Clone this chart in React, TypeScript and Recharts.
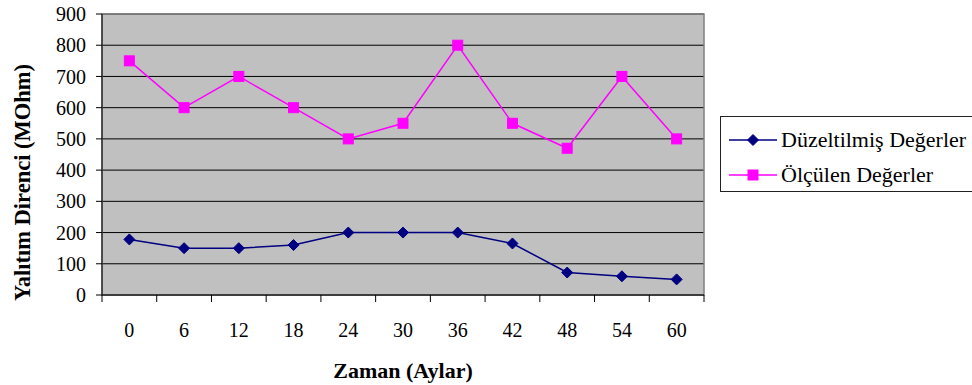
import React from 'react';
import { LineChart, Line, XAxis, YAxis, CartesianGrid, ReferenceArea, Legend } from 'recharts';

const months = [0, 6, 12, 18, 24, 30, 36, 42, 48, 54, 60];
const corrected = [178, 150, 150, 160, 200, 200, 200, 165, 72, 60, 50];
const measured = [750, 600, 700, 600, 500, 550, 800, 550, 470, 700, 500];
const yTicks = [0, 100, 200, 300, 400, 500, 600, 700, 800, 900];
// category edges, where Excel puts its tick marks
const xTickMarks = [-3, 3, 9, 15, 21, 27, 33, 39, 45, 51, 57, 63];

const SERIES = [
  { key: 'corrected', name: 'Düzeltilmiş Değerler', color: '#000080', shape: 'diamond' },
  { key: 'measured', name: 'Ölçülen Değerler', color: '#FF00FF', shape: 'square' },
];

const data = months.map((m, i) => ({ month: m, corrected: corrected[i], measured: measured[i] }));

const FONT = '"Liberation Serif", "Times New Roman", serif';

const Marker = ({ cx, cy, shape, color }: any) => {
  if (cx == null || cy == null) return null;
  if (shape === 'diamond') {
    return (
      <polygon
        points={`${cx},${cy - 5.5} ${cx + 5.5},${cy} ${cx},${cy + 5.5} ${cx - 5.5},${cy}`}
        fill={color}
        stroke={color}
      />
    );
  }
  return <rect x={cx - 5} y={cy - 5} width={10} height={10} fill={color} stroke={color} />;
};

const XTick = ({ x, y, payload }: any) => {
  const v = payload.value;
  if (months.includes(v)) {
    return (
      <text x={x} y={y + 42} textAnchor="middle" fontSize={20} fontFamily={FONT} fill="#000">
        {v}
      </text>
    );
  }
  return <line x1={x} y1={y} x2={x} y2={y + 7} stroke="#000" />;
};

const YLabel = ({ viewBox }: any) => {
  const cx = viewBox.x + 22;
  const bottom = viewBox.y + viewBox.height + 6;
  return (
    <g clipPath="url(#ylabClip)">
      <defs>
        <clipPath id="ylabClip">
          <rect x={0} y={62} width={60} height={300} />
        </clipPath>
      </defs>
      <text
        x={cx}
        y={bottom}
        transform={`rotate(-90 ${cx} ${bottom})`}
        dy={8}
        textAnchor="start"
        fontSize={22.5}
        fontWeight="bold"
        fontFamily={FONT}
        fill="#000"
      >
        Yalıtım Direnci (MOhm)
      </text>
    </g>
  );
};

const XLabel = ({ viewBox }: any) => (
  <text
    x={viewBox.x + viewBox.width / 2}
    y={viewBox.y + 83}
    textAnchor="middle"
    fontSize={22}
    fontWeight="bold"
    fontFamily={FONT}
    fill="#000"
  >
    Zaman (Aylar)
  </text>
);

const LegendBox = () => (
  <div
    style={{
      border: '1px solid #222',
      width: 252,
      height: 69,
      boxSizing: 'content-box',
      fontFamily: FONT,
      fontSize: 22,
      color: '#000',
      paddingTop: 5,
    }}
  >
    {SERIES.map((s) => (
      <div key={s.key} style={{ display: 'flex', alignItems: 'center', height: 35 }}>
        <svg width={60} height={20} style={{ flex: 'none' }}>
          <line x1={8} y1={10} x2={56} y2={10} stroke={s.color} strokeWidth={1.5} />
          <Marker cx={32} cy={10} shape={s.shape} color={s.color} />
        </svg>
        <span style={{ whiteSpace: 'nowrap' }}>{s.name}</span>
      </div>
    ))}
  </div>
);

export default function App() {
  return (
    <div style={{ position: 'absolute', left: 0, top: 0 }}>
      <LineChart width={972} height={385} data={data} margin={{ top: 14, right: 268, bottom: 0, left: 0 }}>
        <CartesianGrid horizontal vertical={false} stroke="#000" fill="#C0C0C0" fillOpacity={1} />
        <ReferenceArea x1={-3} x2={63} y1={0} y2={900} fill="none" stroke="#808080" strokeWidth={1.5} ifOverflow="visible" />
        <XAxis
          dataKey="month"
          type="number"
          domain={[-3, 63]}
          ticks={[...xTickMarks, ...months].sort((a, b) => a - b)}
          interval={0}
          tickLine={false}
          tickSize={0}
          tickMargin={0}
          tick={<XTick />}
          axisLine={{ stroke: '#000' }}
          height={90}
          label={<XLabel />}
        />
        <YAxis
          domain={[0, 900]}
          ticks={yTicks}
          interval={0}
          width={102}
          tickSize={6}
          tickMargin={10}
          tickLine={{ stroke: '#000' }}
          axisLine={{ stroke: '#000' }}
          tick={{ fontSize: 20, fontFamily: FONT, fill: '#000' }}
          label={<YLabel />}
        />
        {SERIES.map((s) => (
          <Line
            key={s.key}
            dataKey={s.key}
            name={s.name}
            stroke={s.color}
            strokeWidth={1.5}
            dot={(p: any) => <Marker key={`${s.key}-${p.index}`} cx={p.cx} cy={p.cy} shape={s.shape} color={s.color} />}
            isAnimationActive={false}
          />
        ))}
        <Legend
          layout="vertical"
          align="center"
          verticalAlign="middle"
          content={<LegendBox />}
          wrapperStyle={{ position: 'absolute', left: 720, top: 116, width: 256 }}
        />
      </LineChart>
    </div>
  );
}
